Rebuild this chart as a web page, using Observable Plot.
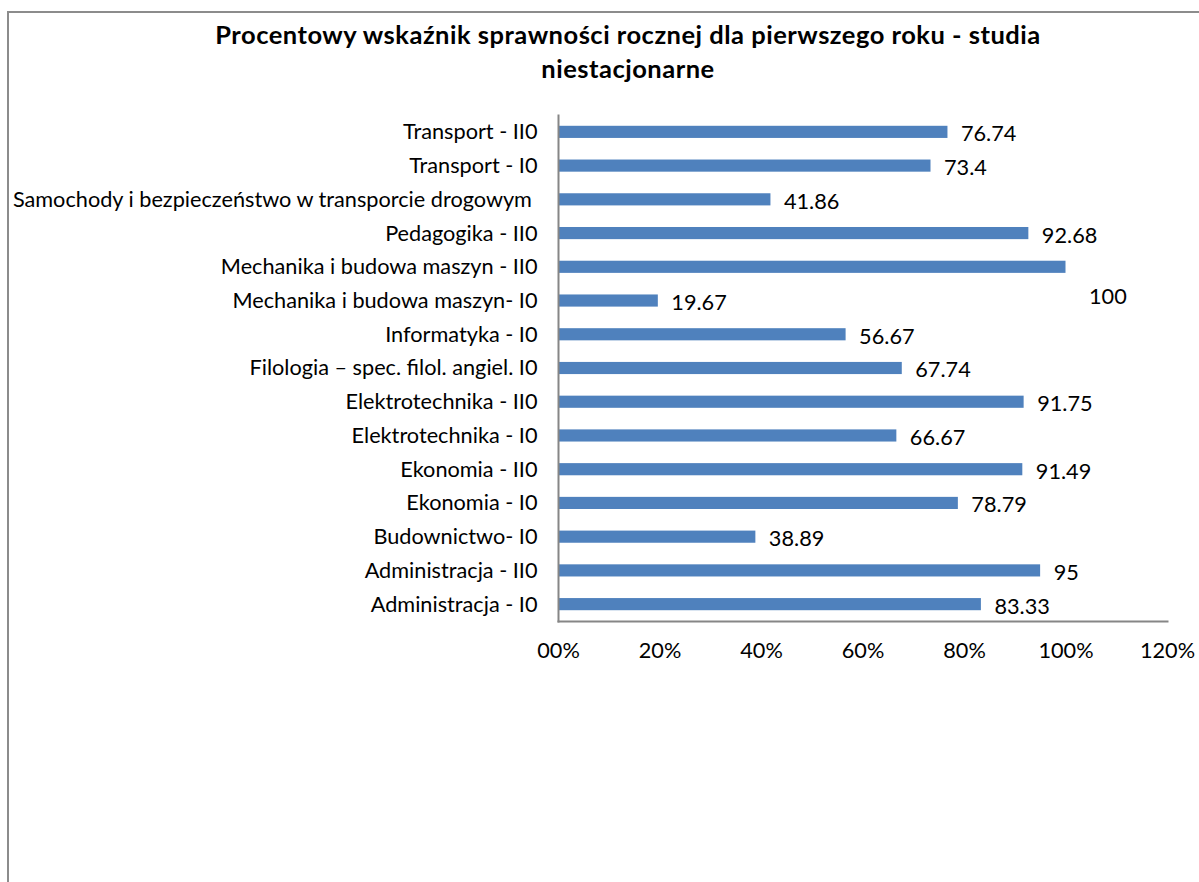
<!DOCTYPE html>
<html>
<head>
<meta charset="utf-8">
<script src="https://cdn.jsdelivr.net/npm/d3@7"></script>
<script src="https://cdn.jsdelivr.net/npm/@observablehq/plot@0.6"></script>
<style>
  html, body { margin: 0; padding: 0; background: #fff; overflow: hidden; }
  body { width: 1199px; height: 882px; position: relative; font-family: Lato, "Open Sans", sans-serif; }
  #border { position: absolute; left: 7px; top: 11px; width: 1300px; height: 1000px; border: 2px solid #8c8c8c; box-sizing: border-box; }
  #title { position: absolute; left: 0; top: 17px; width: 1256px; text-align: center; font-weight: bold; font-size: 25.5px; letter-spacing: 0.5px; line-height: 34px; color: #000; }
  #chart { position: absolute; left: 0; top: 100px; }
  #chart svg text { white-space: pre; }
</style>
</head>
<body>
<div id="border"></div>
<div id="title">Procentowy wskaźnik sprawności rocznej dla pierwszego roku - studia<br>niestacjonarne</div>
<div id="chart"></div>
<script>
const categories = [
  "Transport - II0",
  "Transport - I0",
  "Samochody i bezpieczeństwo w transporcie drogowym ",
  "Pedagogika - II0",
  "Mechanika i budowa maszyn - II0",
  "Mechanika i budowa maszyn- I0",
  "Informatyka - I0",
  "Filologia – spec. filol. angiel. I0",
  "Elektrotechnika - II0",
  "Elektrotechnika - I0",
  "Ekonomia - II0",
  "Ekonomia - I0",
  "Budownictwo- I0",
  "Administracja - II0",
  "Administracja - I0"
];
const values = [76.74, 73.4, 41.86, 92.68, 100, 19.67, 56.67, 67.74, 91.75, 66.67, 91.49, 78.79, 38.89, 95, 83.33];
const xTicks = [0, 20, 40, 60, 80, 100, 120];
const xTickLabels = ["00%", "20%", "40%", "60%", "80%", "100%", "120%"];

const data = categories.map((c, i) => ({category: c, value: values[i]}));
const axisColor = "#868686";
const fs = 21.7;

const chart = Plot.plot({
  width: 1199,
  height: 580,
  marginLeft: 558,
  marginRight: 32,
  marginTop: 15,
  marginBottom: 59,
  style: {fontFamily: "Lato, 'Open Sans', sans-serif", fontSize: fs + "px", color: "#000", background: "transparent"},
  x: {domain: [0, 120], label: null},
  y: {domain: categories, paddingInner: 0.64, paddingOuter: 0.32, round: false, label: null},
  marks: [
    Plot.barX(data, {x: "value", y: "category", fill: "#4f81bd"}),
    Plot.frame({anchor: "bottom", stroke: axisColor, strokeWidth: 2}),
    Plot.frame({anchor: "left", stroke: axisColor, strokeWidth: 2}),
    Plot.axisX({ticks: xTicks, tickFormat: (d) => xTickLabels[xTicks.indexOf(d)], tickSize: 0, tickPadding: 21, label: null, fontSize: fs}),
    Plot.axisY({tickSize: 0, tickPadding: 21, label: null, fontSize: fs}),
    Plot.text(data.filter(d => d.value < 100), {x: "value", y: "category", text: d => String(d.value), textAnchor: "start", dx: 13, dy: 2, fontSize: fs, fill: "#000"}),
    Plot.text(data.filter(d => d.value >= 100), {x: "value", y: "category", text: d => String(d.value), textAnchor: "start", dx: 23, dy: 30, fontSize: fs, fill: "#000"})
  ]
});
document.getElementById("chart").appendChild(chart);
</script>
</body>
</html>
